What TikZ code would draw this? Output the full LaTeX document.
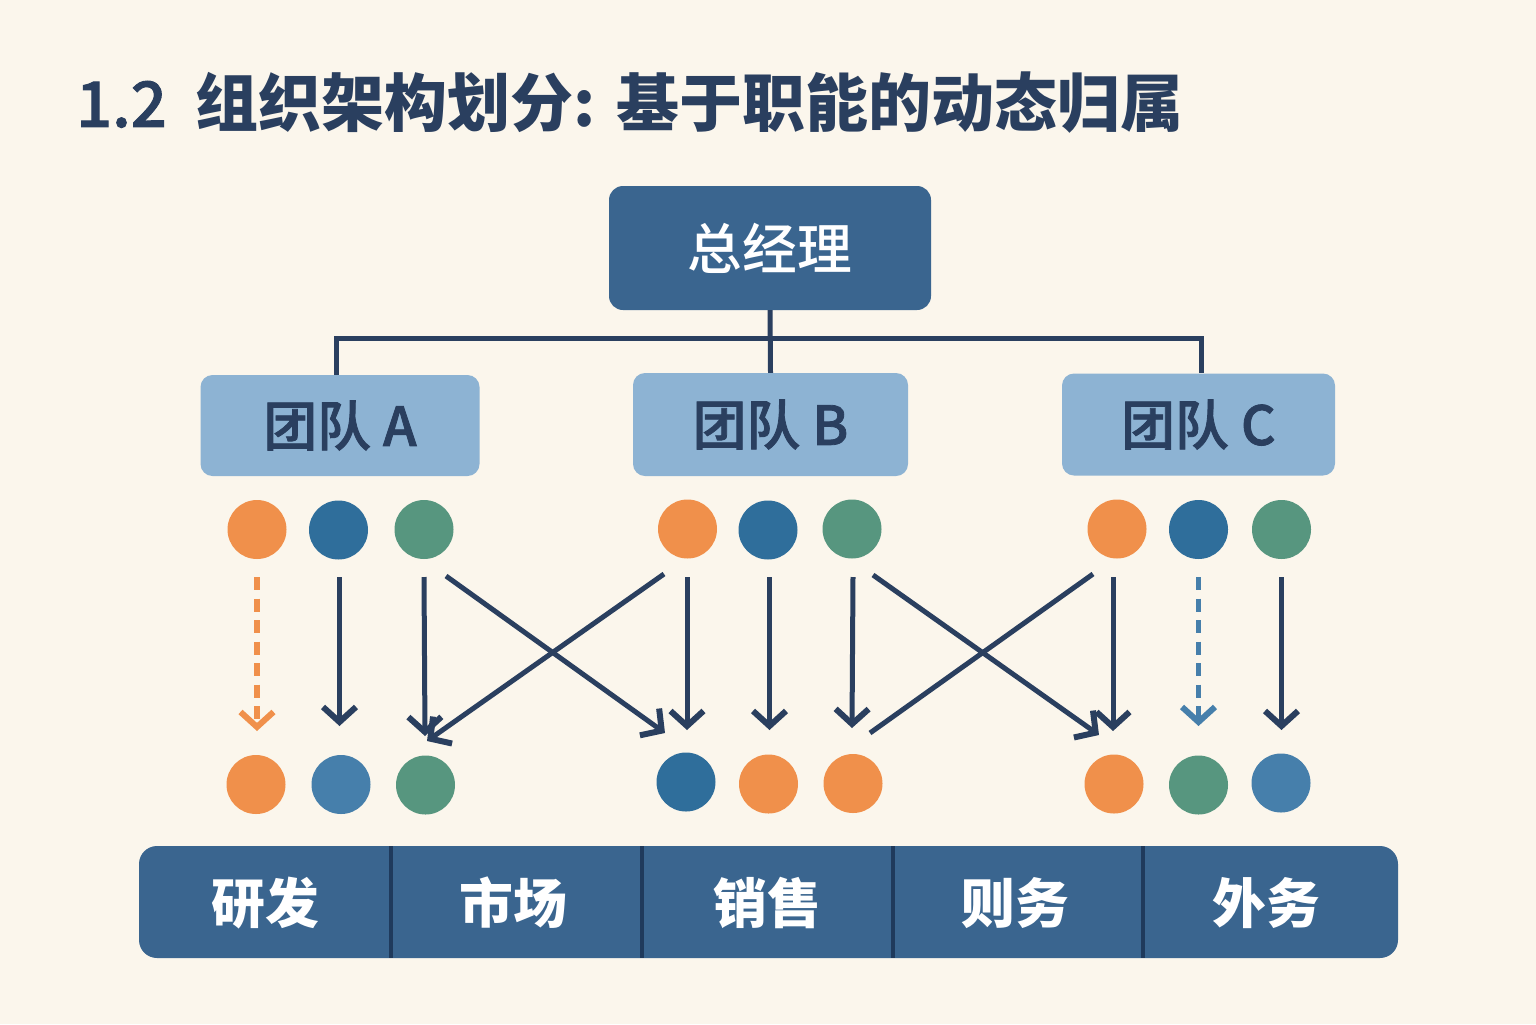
\documentclass[tikz,border=0pt]{standalone}
\usepackage{fontspec}
\setmainfont{Noto Sans CJK SC}
\newfontfamily\medf{Noto Sans CJK SC Medium}
\newfontfamily\heavyf{Noto Sans CJK SC Medium}[FakeBold=1.5]
\usetikzlibrary{arrows.meta}
\definecolor{bgc}{HTML}{FBF6EC}
\definecolor{navy}{HTML}{2A3F5F}
\definecolor{deep}{HTML}{3A658F}
\definecolor{light}{HTML}{8DB3D3}
\definecolor{orangec}{HTML}{F0904B}
\definecolor{bluea}{HTML}{2F6E9B}
\definecolor{blueb}{HTML}{467FAB}
\definecolor{greenc}{HTML}{57967F}
\definecolor{sep}{HTML}{1F3A5C}
\tikzset{
  topbox/.style={fill=deep,rounded corners=14bp,text=white,inner sep=0pt,font=\medf\fontsize{55}{55}\selectfont},
  teambox/.style={fill=light,rounded corners=12bp,text=navy,inner sep=0pt,font=\heavyf\fontsize{54}{54}\selectfont},
  dept/.style={text=white,inner sep=0pt,font=\bfseries\fontsize{54}{54}\selectfont},
  dot/.style={circle,minimum size=59bp,inner sep=0pt},
  tree/.style={draw=navy,line width=5bp},
  arr/.style={draw=navy,line width=5bp,-{Straight Barb[length=15bp,width=33bp,line width=6bp]}},
  arrd/.style={arr,line width=6bp,dash pattern=on 13bp off 8.5bp},
}
\begin{document}
\begin{tikzpicture}[x=1bp,y=-1bp]
\useasboundingbox (0,0) rectangle (1536,1024);
\fill[bgc] (0,0) rectangle (1536,1024);
\node[anchor=west,text=navy,inner sep=0pt,font=\fontsize{63.2}{63.2}\selectfont] (title) at (76,103) {{\heavyf 1.2}\hspace{29bp}{\bfseries 组织架构划分:}\hspace{21bp}{\bfseries 基于职能的动态归属}};
\node[topbox,minimum width=322bp,minimum height=124bp] (gm) at (770,248) {总经理};
\node[teambox,minimum width=279bp,minimum height=101bp] (ta) at (340,425.5) {\raisebox{-3bp}{团队 A}};
\node[teambox,minimum width=275bp,minimum height=103bp] (tb) at (770.5,424.5) {\raisebox{-3bp}{团队 B}};
\node[teambox,minimum width=273bp,minimum height=102bp] (tc) at (1198.5,424.5) {\raisebox{-3bp}{团队 C}};
\coordinate (hub) at (770,338);
\draw[tree] (gm.south) -- (tb.north);
\draw[tree] (ta.north -| 336,0) |- (hub) -| (tc.north -| 1201,0);
% upper dots
\node[dot,fill=orangec] (a1) at (257,529.5) {};
\node[dot,fill=bluea] (a2) at (338.5,530) {};
\node[dot,fill=greenc] (a3) at (424,529.5) {};
\node[dot,fill=orangec] (b1) at (687.5,529) {};
\node[dot,fill=bluea] (b2) at (768,530) {};
\node[dot,fill=greenc] (b3) at (852,529) {};
\node[dot,fill=orangec] (c1) at (1117,529) {};
\node[dot,fill=bluea] (c2) at (1198.5,529.5) {};
\node[dot,fill=greenc] (c3) at (1281.5,529.5) {};
% lower dots
\node[dot,fill=orangec] (d1) at (256,784.5) {};
\node[dot,fill=blueb] (d2) at (341,784.5) {};
\node[dot,fill=greenc] (d3) at (425.5,785) {};
\node[dot,fill=bluea] (d4) at (686,782) {};
\node[dot,fill=orangec] (d5) at (768.5,784) {};
\node[dot,fill=orangec] (d6) at (853,783.5) {};
\node[dot,fill=orangec] (d7) at (1114,784) {};
\node[dot,fill=greenc] (d8) at (1198.5,785) {};
\node[dot,fill=blueb] (d9) at (1281,783) {};
% arrow ends
\foreach \n/\x/\y in {s1/257/577,e1/257/731,s2/339.5/577,e2/339.5/726,s3/424/577,e3/425/736,
  s4/446/576,e4/665/733,s5/664/574,e5/427/741,s6/687/577,e6/687/730,s7/769.5/577,e7/769.5/730,
  s8/853/577,e8/852/728,s9/873/575,e9/1099/735,s10/1093/574,e10/870/733,s11/1113/577,e11/1113/731,
  s12/1198.5/577,e12/1198.5/726,s13/1281.5/577,e13/1281.5/730}
  {\coordinate (\n) at (\x,\y);}
\draw[arrd,draw=orangec] (s1) -- (e1);
\draw[arr] (s2) -- (e2);
\draw[arr] (s3) -- (e3);
\draw[arr] (s4) -- (e4);
\draw[arr] (s5) -- (e5);
\draw[arr] (s6) -- (e6);
\draw[arr] (s7) -- (e7);
\draw[arr] (s8) -- (e8);
\draw[arr] (s9) -- (e9);
\draw[tree] (s10) -- (e10);
\draw[arr] (s11) -- (e11);
\draw[arrd,draw=blueb,line width=5bp] (s12) -- (e12);
\draw[arr] (s13) -- (e13);
% department bar
\fill[deep,rounded corners=18bp] (139,846) rectangle (1398,958);
\node[dept] (r1) at (265,903) {研发};
\node[dept] (r2) at (513,903) {市场};
\node[dept] (r3) at (767,903) {销售};
\node[dept] (r4) at (1015,903) {则务};
\node[dept] (r5) at (1266,903) {外务};
\foreach \x in {391,642,893,1143} \draw[sep,line width=4.5bp] (\x,846) -- (\x,958);
\end{tikzpicture}
\end{document}
